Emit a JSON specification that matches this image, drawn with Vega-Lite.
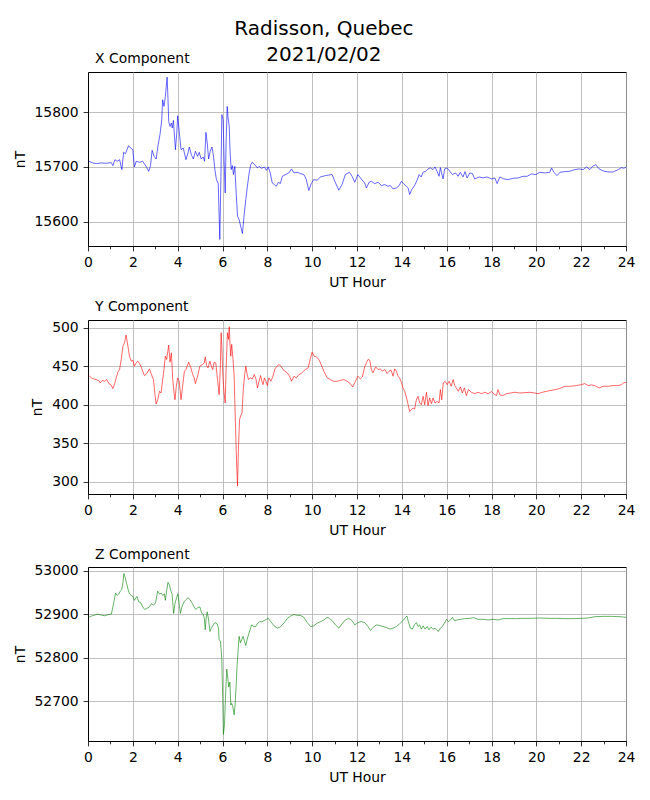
{
  "$schema": "https://vega.github.io/schema/vega-lite/v6.json",
  "padding": {"left": 12, "top": 18, "right": 10, "bottom": 5},
  "title": {
    "text": ["Radisson, Quebec", "2021/02/02"],
    "fontSize": 20,
    "fontWeight": "normal",
    "lineHeight": 26,
    "anchor": "middle",
    "offset": -13,
    "color": "black"
  },
  "config": {
    "font": "DejaVu Sans",
    "background": "white",
    "view": {"stroke": "black", "strokeWidth": 1},
    "axis": {
      "domainColor": "black",
      "domainWidth": 1,
      "tickColor": "black",
      "tickWidth": 0.8,
      "tickSize": 4.9,
      "labelPadding": 4.9,
      "labelFontSize": 13.9,
      "labelColor": "black",
      "labelFlush": false,
      "labelOverlap": false,
      "labelBound": false,
      "titleFontSize": 13.9,
      "titleFontWeight": "normal",
      "titleColor": "black",
      "gridColor": "#b0b0b0",
      "gridWidth": 0.8
    },
    "axisX": {"titlePadding": 6},
    "axisY": {"titlePadding": 7, "format": "d"},
    "title": {"fontSize": 13.9, "fontWeight": "normal", "color": "black"}
  },
  "spacing": 8,
  "datasets": {
    "xc": [
      {"h":0.04,"v":15710.3},{"h":0.22,"v":15707.3},{"h":0.37,"v":15706.1},{"h":0.59,"v":15707.3},{"h":0.81,"v":15706.7},{"h":1.04,"v":15707.9},{"h":1.11,"v":15702.4},{"h":1.2,"v":15713.3},{"h":1.3,"v":15710.3},{"h":1.41,"v":15713.3},{"h":1.51,"v":15695.2},{"h":1.59,"v":15726.7},{"h":1.67,"v":15724.2},{"h":1.81,"v":15738.8},{"h":1.9,"v":15734.5},{"h":2.0,"v":15731.5},{"h":2.07,"v":15700},{"h":2.15,"v":15710.3},{"h":2.3,"v":15708.5},{"h":2.44,"v":15710.3},{"h":2.59,"v":15701.2},{"h":2.71,"v":15692.1},{"h":2.79,"v":15702.4},{"h":2.86,"v":15730.3},{"h":2.95,"v":15719.4},{"h":3.04,"v":15714.5},{"h":3.13,"v":15740.6},{"h":3.21,"v":15758.8},{"h":3.29,"v":15786.1},{"h":3.33,"v":15822.4},{"h":3.39,"v":15810.3},{"h":3.45,"v":15828.5},{"h":3.53,"v":15863.6},{"h":3.57,"v":15822.4},{"h":3.6,"v":15783},{"h":3.66,"v":15773.9},{"h":3.72,"v":15780},{"h":3.76,"v":15770.9},{"h":3.81,"v":15784.8},{"h":3.9,"v":15731.5},{"h":3.96,"v":15761.8},{"h":4.0,"v":15793.3},{"h":4.07,"v":15764.8},{"h":4.15,"v":15731.5},{"h":4.25,"v":15734.5},{"h":4.37,"v":15713.3},{"h":4.46,"v":15725.5},{"h":4.52,"v":15736.4},{"h":4.61,"v":15722.4},{"h":4.7,"v":15714.5},{"h":4.79,"v":15728.5},{"h":4.89,"v":15719.4},{"h":4.96,"v":15726.7},{"h":5.05,"v":15714.5},{"h":5.14,"v":15718.2},{"h":5.2,"v":15710.3},{"h":5.26,"v":15763},{"h":5.32,"v":15743.6},{"h":5.38,"v":15714.5},{"h":5.45,"v":15728.5},{"h":5.53,"v":15736.4},{"h":5.59,"v":15722.4},{"h":5.66,"v":15695.2},{"h":5.73,"v":15677},{"h":5.81,"v":15669.7},{"h":5.88,"v":15567.9},{"h":5.93,"v":15683},{"h":5.97,"v":15795.2},{"h":6.03,"v":15786.1},{"h":6.07,"v":15713.3},{"h":6.12,"v":15652.7},{"h":6.16,"v":15743.6},{"h":6.21,"v":15810.3},{"h":6.25,"v":15789.1},{"h":6.3,"v":15773.9},{"h":6.34,"v":15725.5},{"h":6.39,"v":15695.2},{"h":6.44,"v":15702.4},{"h":6.49,"v":15686.1},{"h":6.55,"v":15701.2},{"h":6.61,"v":15652.7},{"h":6.67,"v":15610.3},{"h":6.74,"v":15604.2},{"h":6.81,"v":15592.1},{"h":6.89,"v":15578.8},{"h":6.96,"v":15610.3},{"h":7.04,"v":15640.6},{"h":7.11,"v":15664.8},{"h":7.19,"v":15689.1},{"h":7.26,"v":15704.2},{"h":7.33,"v":15708.5},{"h":7.44,"v":15704.2},{"h":7.56,"v":15698.2},{"h":7.63,"v":15701.2},{"h":7.75,"v":15697.6},{"h":7.87,"v":15700},{"h":7.96,"v":15693.9},{"h":8.04,"v":15700},{"h":8.13,"v":15689.1},{"h":8.22,"v":15670.9},{"h":8.31,"v":15667.9},{"h":8.4,"v":15664.8},{"h":8.49,"v":15672.1},{"h":8.58,"v":15669.7},{"h":8.67,"v":15683},{"h":8.81,"v":15686.1},{"h":8.96,"v":15689.1},{"h":9.08,"v":15696.4},{"h":9.19,"v":15689.1},{"h":9.33,"v":15690.3},{"h":9.48,"v":15687.9},{"h":9.63,"v":15686.1},{"h":9.73,"v":15678.2},{"h":9.85,"v":15657},{"h":9.96,"v":15669.7},{"h":10.07,"v":15677},{"h":10.22,"v":15675.8},{"h":10.37,"v":15681.8},{"h":10.59,"v":15684.2},{"h":10.77,"v":15685.5},{"h":10.89,"v":15686.1},{"h":11.01,"v":15673.9},{"h":11.19,"v":15657.6},{"h":11.33,"v":15667.9},{"h":11.48,"v":15686.1},{"h":11.66,"v":15690.3},{"h":11.78,"v":15683},{"h":11.9,"v":15672.1},
      {"h":12.04,"v":15686.1},{"h":12.19,"v":15678.2},{"h":12.34,"v":15670.9},{"h":12.42,"v":15661.8},{"h":12.54,"v":15672.1},{"h":12.64,"v":15673.9},{"h":12.79,"v":15669.7},{"h":12.94,"v":15672.1},{"h":13.09,"v":15666.1},{"h":13.24,"v":15667.9},{"h":13.38,"v":15664.8},{"h":13.49,"v":15666.1},{"h":13.61,"v":15660},{"h":13.76,"v":15661.8},{"h":13.88,"v":15666.1},{"h":13.98,"v":15673.9},{"h":14.08,"v":15669.7},{"h":14.2,"v":15664.8},{"h":14.28,"v":15661.8},{"h":14.35,"v":15649.7},{"h":14.44,"v":15658.8},{"h":14.57,"v":15666.1},{"h":14.68,"v":15675.8},{"h":14.77,"v":15686.1},{"h":14.86,"v":15681.8},{"h":14.95,"v":15690.3},{"h":15.07,"v":15692.1},{"h":15.17,"v":15696.4},{"h":15.27,"v":15698.2},{"h":15.39,"v":15695.2},{"h":15.48,"v":15700},{"h":15.57,"v":15692.1},{"h":15.66,"v":15683},{"h":15.72,"v":15698.8},{"h":15.79,"v":15686.1},{"h":15.84,"v":15678.2},{"h":15.91,"v":15696.4},{"h":16.02,"v":15698.2},{"h":16.14,"v":15692.1},{"h":16.26,"v":15686.1},{"h":16.4,"v":15689.1},{"h":16.51,"v":15683},{"h":16.61,"v":15690.3},{"h":16.73,"v":15681.8},{"h":16.82,"v":15691.5},{"h":16.91,"v":15680},{"h":17.03,"v":15689.1},{"h":17.15,"v":15687.9},{"h":17.25,"v":15678.2},{"h":17.45,"v":15681.8},{"h":17.63,"v":15680},{"h":17.8,"v":15681.8},{"h":18.0,"v":15678.2},{"h":18.15,"v":15680},{"h":18.25,"v":15669.7},{"h":18.37,"v":15681.8},{"h":18.55,"v":15678.2},{"h":18.74,"v":15677},{"h":18.96,"v":15679.4},{"h":19.19,"v":15680},{"h":19.41,"v":15683},{"h":19.59,"v":15683},{"h":19.78,"v":15687.3},{"h":19.98,"v":15686.1},{"h":20.15,"v":15690.3},{"h":20.38,"v":15689.1},{"h":20.6,"v":15690.3},{"h":20.68,"v":15698.2},{"h":20.78,"v":15690.3},{"h":20.93,"v":15684.2},{"h":21.05,"v":15690.3},{"h":21.27,"v":15691.5},{"h":21.49,"v":15692.1},{"h":21.72,"v":15695.2},{"h":21.91,"v":15696.4},{"h":22.09,"v":15695.2},{"h":22.24,"v":15700},{"h":22.39,"v":15695.2},{"h":22.51,"v":15701.2},{"h":22.65,"v":15704.2},{"h":22.8,"v":15696.4},{"h":22.98,"v":15692.7},{"h":23.2,"v":15690.9},{"h":23.43,"v":15690.9},{"h":23.65,"v":15695.2},{"h":23.8,"v":15698.8},{"h":23.9,"v":15697.6},{"h":24.0,"v":15699.4}
    ],
    "yc": [
      {"h":0.04,"v":437.8},{"h":0.15,"v":434.8},{"h":0.25,"v":433.5},{"h":0.37,"v":432.6},{"h":0.49,"v":430.9},{"h":0.55,"v":428.3},{"h":0.64,"v":431.7},{"h":0.74,"v":430.4},{"h":0.84,"v":432.6},{"h":0.93,"v":427.4},{"h":1.02,"v":426.1},{"h":1.11,"v":420.9},{"h":1.19,"v":427.4},{"h":1.26,"v":434.8},{"h":1.33,"v":442.2},{"h":1.41,"v":445.7},{"h":1.48,"v":458.7},{"h":1.56,"v":476.1},{"h":1.63,"v":480.4},{"h":1.7,"v":490.4},{"h":1.78,"v":476.1},{"h":1.85,"v":463},{"h":1.93,"v":456.5},{"h":2.0,"v":457.8},{"h":2.07,"v":450},{"h":2.15,"v":454.3},{"h":2.22,"v":456.5},{"h":2.3,"v":453.5},{"h":2.37,"v":449.1},{"h":2.44,"v":443.5},{"h":2.52,"v":437.8},{"h":2.62,"v":440.4},{"h":2.74,"v":446.5},{"h":2.83,"v":439.1},{"h":2.92,"v":432.6},{"h":2.98,"v":415.2},{"h":3.04,"v":400.9},{"h":3.11,"v":406.5},{"h":3.19,"v":417.4},{"h":3.26,"v":415.2},{"h":3.33,"v":432.6},{"h":3.39,"v":445.7},{"h":3.45,"v":463},{"h":3.51,"v":458.7},{"h":3.6,"v":477.4},{"h":3.66,"v":455.2},{"h":3.72,"v":467.4},{"h":3.78,"v":432.6},{"h":3.84,"v":415.2},{"h":3.88,"v":406.5},{"h":3.94,"v":423.9},{"h":4.0,"v":434.8},{"h":4.07,"v":430.4},{"h":4.15,"v":406.5},{"h":4.22,"v":423.9},{"h":4.3,"v":443.5},{"h":4.37,"v":445.7},{"h":4.49,"v":455.2},{"h":4.59,"v":447.8},{"h":4.67,"v":439.1},{"h":4.74,"v":434.8},{"h":4.79,"v":427.4},{"h":4.89,"v":437},{"h":4.99,"v":450},{"h":5.11,"v":452.2},{"h":5.19,"v":454.3},{"h":5.23,"v":462.2},{"h":5.29,"v":450.9},{"h":5.35,"v":447.8},{"h":5.44,"v":456.5},{"h":5.5,"v":450},{"h":5.56,"v":445.7},{"h":5.63,"v":455.2},{"h":5.7,"v":454.3},{"h":5.78,"v":432.6},{"h":5.85,"v":413},{"h":5.9,"v":445.7},{"h":5.94,"v":493.5},{"h":5.97,"v":476.1},{"h":6.01,"v":441.3},{"h":6.07,"v":415.2},{"h":6.12,"v":402.2},{"h":6.16,"v":445.7},{"h":6.22,"v":493.5},{"h":6.27,"v":484.8},{"h":6.3,"v":501.3},{"h":6.34,"v":476.1},{"h":6.37,"v":463},{"h":6.41,"v":478.3},{"h":6.47,"v":458.7},{"h":6.52,"v":437},{"h":6.56,"v":393.5},{"h":6.61,"v":341.3},{"h":6.67,"v":294.3},{"h":6.71,"v":341.3},{"h":6.76,"v":380.4},{"h":6.81,"v":385.6},{"h":6.87,"v":389.1},{"h":6.93,"v":421.7},{"h":6.99,"v":439.1},{"h":7.04,"v":450},{"h":7.1,"v":439.1},{"h":7.16,"v":432.6},{"h":7.24,"v":434.8},{"h":7.33,"v":433.5},{"h":7.42,"v":439.1},{"h":7.5,"v":432.6},{"h":7.56,"v":421.7},{"h":7.63,"v":430.4},{"h":7.7,"v":437.8},{"h":7.76,"v":430.4},{"h":7.81,"v":426.1},{"h":7.87,"v":434.8},{"h":7.94,"v":430.4},{"h":8.0,"v":424.8},{"h":8.07,"v":434.8},{"h":8.16,"v":430.4},{"h":8.25,"v":437},{"h":8.34,"v":446.5},{"h":8.43,"v":450},{"h":8.52,"v":452.2},{"h":8.61,"v":450},{"h":8.7,"v":445.7},{"h":8.79,"v":443.5},{"h":8.89,"v":441.3},{"h":8.99,"v":437},{"h":9.08,"v":430.4},{"h":9.19,"v":437},{"h":9.29,"v":434.8},{"h":9.41,"v":439.1},{"h":9.51,"v":440.4},{"h":9.61,"v":443.5},{"h":9.7,"v":445.7},{"h":9.82,"v":447.8},{"h":9.91,"v":458.7},{"h":10.0,"v":468.3},{"h":10.09,"v":463},{"h":10.18,"v":462.2},{"h":10.3,"v":458.7},{"h":10.4,"v":452.2},{"h":10.52,"v":443.5},{"h":10.67,"v":434.8},{"h":10.81,"v":432.6},{"h":10.96,"v":430.4},{"h":11.11,"v":430.4},{"h":11.26,"v":431.7},{"h":11.41,"v":432.6},{"h":11.56,"v":430.4},{"h":11.7,"v":427.4},{"h":11.81,"v":423},{"h":11.93,"v":430.4},
      {"h":12.04,"v":437},{"h":12.15,"v":433.5},{"h":12.24,"v":436.1},{"h":12.34,"v":449.1},{"h":12.42,"v":454.3},{"h":12.49,"v":458.7},{"h":12.57,"v":457.8},{"h":12.64,"v":445.7},{"h":12.71,"v":441.3},{"h":12.83,"v":449.1},{"h":12.94,"v":445.7},{"h":13.04,"v":446.5},{"h":13.13,"v":443.5},{"h":13.24,"v":445.7},{"h":13.34,"v":440.4},{"h":13.43,"v":443.5},{"h":13.52,"v":444.8},{"h":13.61,"v":437},{"h":13.68,"v":446.5},{"h":13.76,"v":443.5},{"h":13.83,"v":437},{"h":13.9,"v":434.8},{"h":13.98,"v":429.1},{"h":14.05,"v":421.7},{"h":14.13,"v":417.4},{"h":14.2,"v":410},{"h":14.28,"v":400},{"h":14.35,"v":391.3},{"h":14.43,"v":393.5},{"h":14.5,"v":395.7},{"h":14.57,"v":394.3},{"h":14.65,"v":406.5},{"h":14.72,"v":410.9},{"h":14.8,"v":402.2},{"h":14.87,"v":400},{"h":14.95,"v":410.9},{"h":15.02,"v":400},{"h":15.1,"v":416.1},{"h":15.17,"v":398.7},{"h":15.24,"v":408.7},{"h":15.32,"v":401.3},{"h":15.39,"v":408.7},{"h":15.48,"v":402.2},{"h":15.57,"v":404.3},{"h":15.66,"v":402.2},{"h":15.72,"v":419.6},{"h":15.78,"v":406.5},{"h":15.85,"v":428.3},{"h":15.93,"v":430.4},{"h":16.02,"v":426.1},{"h":16.11,"v":430.4},{"h":16.2,"v":423.9},{"h":16.29,"v":432.6},{"h":16.36,"v":424.8},{"h":16.43,"v":421.7},{"h":16.52,"v":417.4},{"h":16.61,"v":423},{"h":16.7,"v":415.2},{"h":16.79,"v":421.7},{"h":16.88,"v":411.7},{"h":16.97,"v":419.6},{"h":17.1,"v":416.1},{"h":17.25,"v":414.3},{"h":17.4,"v":416.1},{"h":17.55,"v":414.3},{"h":17.7,"v":416.1},{"h":17.85,"v":414.3},{"h":18.0,"v":417},{"h":18.15,"v":413},{"h":18.22,"v":411.7},{"h":18.29,"v":419.6},{"h":18.37,"v":413},{"h":18.49,"v":411.7},{"h":18.67,"v":414.3},{"h":18.85,"v":415.2},{"h":19.04,"v":416.1},{"h":19.26,"v":415.2},{"h":19.49,"v":415.7},{"h":19.71,"v":416.1},{"h":19.93,"v":415.2},{"h":20.08,"v":414.3},{"h":20.27,"v":416.1},{"h":20.45,"v":417.4},{"h":20.68,"v":418.7},{"h":20.87,"v":419.6},{"h":21.05,"v":421.3},{"h":21.27,"v":423.9},{"h":21.52,"v":423.9},{"h":21.79,"v":424.8},{"h":22.01,"v":426.1},{"h":22.16,"v":427.4},{"h":22.31,"v":424.8},{"h":22.46,"v":425.7},{"h":22.61,"v":424.8},{"h":22.8,"v":421.7},{"h":22.98,"v":423.9},{"h":23.21,"v":423.9},{"h":23.43,"v":424.8},{"h":23.65,"v":424.8},{"h":23.8,"v":426.1},{"h":23.9,"v":428.3},{"h":24.0,"v":429.1}
    ],
    "zc": [
      {"h":0.04,"v":52893},{"h":0.15,"v":52896},{"h":0.3,"v":52898.2},{"h":0.44,"v":52900.5},{"h":0.59,"v":52898.2},{"h":0.74,"v":52896.7},{"h":0.89,"v":52899},{"h":1.04,"v":52900.5},{"h":1.11,"v":52917.1},{"h":1.17,"v":52932.2},{"h":1.23,"v":52948.7},{"h":1.3,"v":52943.5},{"h":1.38,"v":52947.2},{"h":1.44,"v":52953.3},{"h":1.5,"v":52956.3},{"h":1.56,"v":52973.6},{"h":1.6,"v":52994},{"h":1.66,"v":52984.9},{"h":1.72,"v":52971.4},{"h":1.78,"v":52958.5},{"h":1.85,"v":52947.2},{"h":1.93,"v":52943.5},{"h":2.0,"v":52941.2},{"h":2.07,"v":52932.2},{"h":2.18,"v":52941.2},{"h":2.27,"v":52928.4},{"h":2.36,"v":52926.1},{"h":2.44,"v":52917.1},{"h":2.53,"v":52911.1},{"h":2.62,"v":52913.3},{"h":2.74,"v":52917.1},{"h":2.83,"v":52924.6},{"h":2.92,"v":52920.9},{"h":3.01,"v":52926.1},{"h":3.11,"v":52953.3},{"h":3.19,"v":52947.2},{"h":3.27,"v":52948.7},{"h":3.33,"v":52943.5},{"h":3.41,"v":52947.2},{"h":3.45,"v":52932.2},{"h":3.51,"v":52954.8},{"h":3.57,"v":52973.6},{"h":3.63,"v":52968.3},{"h":3.69,"v":52954.8},{"h":3.75,"v":52947.2},{"h":3.79,"v":52920.9},{"h":3.82,"v":52902},{"h":3.88,"v":52924.6},{"h":3.96,"v":52939.7},{"h":4.01,"v":52947.2},{"h":4.07,"v":52924.6},{"h":4.12,"v":52902},{"h":4.19,"v":52917.1},{"h":4.28,"v":52928.4},{"h":4.37,"v":52933.7},{"h":4.46,"v":52938.2},{"h":4.55,"v":52933.7},{"h":4.64,"v":52926.1},{"h":4.73,"v":52917.1},{"h":4.81,"v":52911.1},{"h":4.9,"v":52915.6},{"h":4.99,"v":52917.1},{"h":5.08,"v":52902},{"h":5.14,"v":52900.5},{"h":5.19,"v":52890.7},{"h":5.23,"v":52864.3},{"h":5.27,"v":52890.7},{"h":5.32,"v":52905.8},{"h":5.38,"v":52886.9},{"h":5.44,"v":52860.5},{"h":5.5,"v":52868.1},{"h":5.59,"v":52875.6},{"h":5.67,"v":52880.9},{"h":5.76,"v":52877.9},{"h":5.82,"v":52868.1},{"h":5.85,"v":52841.7},{"h":5.91,"v":52837.9},{"h":5.97,"v":52796.5},{"h":6.01,"v":52706},{"h":6.04,"v":52623.1},{"h":6.09,"v":52645.7},{"h":6.13,"v":52706},{"h":6.19,"v":52773.9},{"h":6.24,"v":52751.3},{"h":6.28,"v":52732.4},{"h":6.33,"v":52743.7},{"h":6.37,"v":52690.9},{"h":6.41,"v":52694.7},{"h":6.46,"v":52687.2},{"h":6.52,"v":52668.3},{"h":6.56,"v":52690.9},{"h":6.61,"v":52736.2},{"h":6.65,"v":52781.4},{"h":6.7,"v":52819.1},{"h":6.74,"v":52849.2},{"h":6.8,"v":52834.2},{"h":6.86,"v":52841.7},{"h":6.92,"v":52849.2},{"h":6.98,"v":52837.9},{"h":7.04,"v":52828.1},{"h":7.1,"v":52841.7},{"h":7.16,"v":52853},{"h":7.23,"v":52864.3},{"h":7.3,"v":52875.6},{"h":7.39,"v":52871.9},{"h":7.48,"v":52871.9},{"h":7.57,"v":52879.4},{"h":7.66,"v":52883.2},{"h":7.75,"v":52882.4},{"h":7.85,"v":52885.4},{"h":7.96,"v":52888.4},{"h":8.04,"v":52890.7},{"h":8.15,"v":52883.2},{"h":8.3,"v":52873.4},{"h":8.44,"v":52868.1},{"h":8.56,"v":52870.3},{"h":8.67,"v":52875.6},{"h":8.79,"v":52883.2},{"h":8.89,"v":52890.7},{"h":9.04,"v":52896},{"h":9.19,"v":52899.7},{"h":9.33,"v":52897.5},{"h":9.48,"v":52897.5},{"h":9.63,"v":52893},{"h":9.78,"v":52880.9},{"h":9.93,"v":52871.9},{"h":10.07,"v":52873.4},{"h":10.22,"v":52879.4},{"h":10.37,"v":52883.2},{"h":10.52,"v":52886.9},{"h":10.67,"v":52893},{"h":10.77,"v":52890.7},{"h":10.89,"v":52885.4},{"h":11.04,"v":52875.6},{"h":11.19,"v":52868.1},{"h":11.33,"v":52877.9},{"h":11.48,"v":52886.9},{"h":11.63,"v":52890.7},{"h":11.78,"v":52885.4},{"h":11.9,"v":52875.6},
      {"h":12.04,"v":52880.9},{"h":12.19,"v":52883.2},{"h":12.34,"v":52880.9},{"h":12.49,"v":52871.9},{"h":12.6,"v":52862.8},{"h":12.71,"v":52869.6},{"h":12.86,"v":52875.6},{"h":13.01,"v":52874.1},{"h":13.16,"v":52871.9},{"h":13.31,"v":52869.6},{"h":13.46,"v":52865.8},{"h":13.61,"v":52868.1},{"h":13.76,"v":52871.9},{"h":13.9,"v":52877.9},{"h":14.05,"v":52885.4},{"h":14.17,"v":52893},{"h":14.23,"v":52896},{"h":14.29,"v":52883.2},{"h":14.38,"v":52868.1},{"h":14.47,"v":52865.8},{"h":14.56,"v":52875.6},{"h":14.65,"v":52880.9},{"h":14.72,"v":52871.9},{"h":14.8,"v":52875.6},{"h":14.87,"v":52865.8},{"h":14.95,"v":52873.4},{"h":15.04,"v":52865.8},{"h":15.13,"v":52871.9},{"h":15.21,"v":52864.3},{"h":15.3,"v":52870.3},{"h":15.39,"v":52865.8},{"h":15.48,"v":52868.1},{"h":15.57,"v":52862.8},{"h":15.63,"v":52860.5},{"h":15.72,"v":52868.1},{"h":15.81,"v":52871.9},{"h":15.9,"v":52879.4},{"h":15.99,"v":52888.4},{"h":16.08,"v":52883.2},{"h":16.17,"v":52886.9},{"h":16.26,"v":52893},{"h":16.35,"v":52885.4},{"h":16.46,"v":52886.9},{"h":16.61,"v":52888.4},{"h":16.81,"v":52890},{"h":17.03,"v":52890.7},{"h":17.21,"v":52892.2},{"h":17.4,"v":52888.4},{"h":17.63,"v":52888.4},{"h":17.85,"v":52886.9},{"h":18.07,"v":52888.4},{"h":18.29,"v":52886.9},{"h":18.52,"v":52890},{"h":18.82,"v":52890},{"h":19.11,"v":52890},{"h":19.41,"v":52890.7},{"h":19.78,"v":52890.7},{"h":20.15,"v":52891.5},{"h":20.53,"v":52890.7},{"h":20.9,"v":52890.7},{"h":21.27,"v":52890},{"h":21.64,"v":52890},{"h":22.01,"v":52890.7},{"h":22.31,"v":52891.5},{"h":22.61,"v":52894.5},{"h":22.98,"v":52895.2},{"h":23.35,"v":52895.2},{"h":23.73,"v":52894.5},{"h":24.0,"v":52893}
    ]
  },
  "vconcat": [
    {
      "width": 538,
      "height": 174,
      "title": {"text": "X Component", "anchor": "start", "frame": "group", "dx": 7, "offset": 6},
      "data": {"name": "xc"},
      "mark": {"type": "line", "color": "#0000ff", "strokeWidth": 0.6, "clip": true},
      "encoding": {
        "x": {
          "field": "h", "type": "quantitative",
          "scale": {"domain": [0, 24], "nice": false},
          "axis": {
            "title": "UT Hour",
            "values": [0,1,2,3,4,5,6,7,8,9,10,11,12,13,14,15,16,17,18,19,20,21,22,23,24],
            "labelExpr": "datum.value % 2 == 0 ? datum.label : ''",
            "tickSize": {"condition": {"test": "datum.value % 2 == 1", "value": 2.8}, "value": 4.9},
            "gridOpacity": {"condition": {"test": "datum.value % 2 == 1", "value": 0}, "value": 1}
          }
        },
        "y": {
          "field": "v", "type": "quantitative",
          "scale": {"domain": [15556, 15873], "nice": false, "zero": false},
          "axis": {"title": "nT", "values": [15600, 15700, 15800]}
        }
      }
    },
    {
      "width": 538,
      "height": 174,
      "title": {"text": "Y Component", "anchor": "start", "frame": "group", "dx": 7, "offset": 6},
      "data": {"name": "yc"},
      "mark": {"type": "line", "color": "#ff0000", "strokeWidth": 0.6, "clip": true},
      "encoding": {
        "x": {
          "field": "h", "type": "quantitative",
          "scale": {"domain": [0, 24], "nice": false},
          "axis": {
            "title": "UT Hour",
            "values": [0,1,2,3,4,5,6,7,8,9,10,11,12,13,14,15,16,17,18,19,20,21,22,23,24],
            "labelExpr": "datum.value % 2 == 0 ? datum.label : ''",
            "tickSize": {"condition": {"test": "datum.value % 2 == 1", "value": 2.8}, "value": 4.9},
            "gridOpacity": {"condition": {"test": "datum.value % 2 == 1", "value": 0}, "value": 1}
          }
        },
        "y": {
          "field": "v", "type": "quantitative",
          "scale": {"domain": [284, 510], "nice": false, "zero": false},
          "axis": {"title": "nT", "values": [300, 350, 400, 450, 500]}
        }
      }
    },
    {
      "width": 538,
      "height": 174,
      "title": {"text": "Z Component", "anchor": "start", "frame": "group", "dx": 7, "offset": 2},
      "data": {"name": "zc"},
      "mark": {"type": "line", "color": "#008000", "strokeWidth": 0.6, "clip": true},
      "encoding": {
        "x": {
          "field": "h", "type": "quantitative",
          "scale": {"domain": [0, 24], "nice": false},
          "axis": {
            "title": "UT Hour",
            "values": [0,1,2,3,4,5,6,7,8,9,10,11,12,13,14,15,16,17,18,19,20,21,22,23,24],
            "labelExpr": "datum.value % 2 == 0 ? datum.label : ''",
            "tickSize": {"condition": {"test": "datum.value % 2 == 1", "value": 2.8}, "value": 4.9},
            "gridOpacity": {"condition": {"test": "datum.value % 2 == 1", "value": 0}, "value": 1}
          }
        },
        "y": {
          "field": "v", "type": "quantitative",
          "scale": {"domain": [52608, 53009], "nice": false, "zero": false},
          "axis": {"title": "nT", "values": [52700, 52800, 52900, 53000]}
        }
      }
    }
  ]
}
